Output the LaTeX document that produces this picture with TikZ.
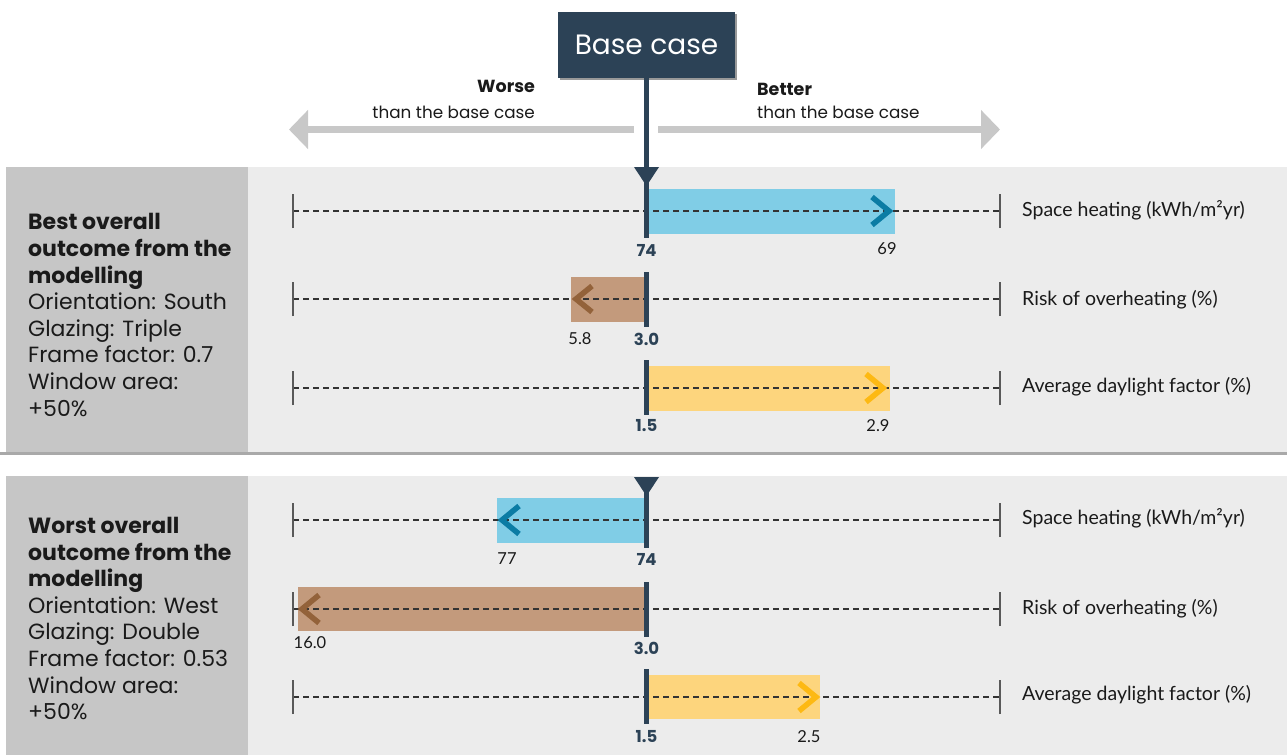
\documentclass[tikz,border=0pt]{standalone}
\usepackage{fontspec}
\setmainfont{Poppins}
\newfontfamily\lato{Lato}
\usetikzlibrary{arrows.meta}
\definecolor{navy}{HTML}{2C4256}
\definecolor{bgl}{HTML}{ECECEC}
\definecolor{panel}{HTML}{C6C6C6}
\definecolor{sepc}{HTML}{A9A9A9}
\definecolor{arrgray}{HTML}{C8C8C8}
\definecolor{bluebar}{HTML}{80CDE6}
\definecolor{bluechev}{HTML}{0B7CA4}
\definecolor{brownbar}{HTML}{C39A7C}
\definecolor{brownchev}{HTML}{93623A}
\definecolor{yelbar}{HTML}{FDD57D}
\definecolor{yelchev}{HTML}{FDB913}
\definecolor{txt}{HTML}{1A1A1A}
\tikzset{
  basebox/.style={fill=navy,text=white,minimum width=177pt,minimum height=66pt,inner sep=0pt,font=\fontsize{28}{30}\selectfont},
  grayarrow/.style={draw=arrgray,line width=7pt,-{Triangle[length=19pt,width=38pt]}},
  baseln/.style={draw=navy,line width=4.5pt},
  dashln/.style={draw=black!80,line width=1.1pt,dash pattern=on 6pt off 4pt},
  tickln/.style={draw=black!65,line width=1.5pt},
  chev/.style={line width=5.5pt,miter limit=10},
  bnum/.style={text=navy,font=\fontsize{16.5}{18}\selectfont\bfseries,inner sep=0pt},
  vnum/.style={text=txt,font=\lato\fontsize{16.5}{18}\selectfont,inner sep=0pt},
  rlab/.style={anchor=west,text=txt,font=\lato\fontsize{19.5}{22}\selectfont,inner sep=0pt},
  lefttxt/.style={anchor=north west,align=left,text=txt,inner sep=0pt,font=\fontsize{22}{26.6}\selectfont},
  headtxt/.style={text=txt,inner sep=0pt,font=\fontsize{16.8}{20}\selectfont}
}
\begin{document}
\begin{tikzpicture}[x=1pt,y=-1pt]
\useasboundingbox (0,0) rectangle (1287,755);
\fill[white] (0,0) rectangle (1287,755);
% section backgrounds
\fill[bgl] (6,167) rectangle (1287,453);
\fill[panel] (6,167) rectangle (248,453);
\draw[sepc,line width=2.2pt] (0,453.5) -- (1287,453.5);
\fill[bgl] (6,476) rectangle (1287,755);
\fill[panel] (6,476) rectangle (248,755);
% base case box
\fill[black!40] (560,14) rectangle (736.5,80);
\node[basebox] (base) at (646.5,45) {Base case};
% heading arrows
\coordinate (wl0) at (634,129.5);
\coordinate (wl1) at (289,129.5);
\coordinate (bl0) at (658,129.5);
\coordinate (bl1) at (1000,129.5);
\draw[grayarrow] (wl0) -- (wl1);
\draw[grayarrow] (bl0) -- (bl1);
\node[headtxt,anchor=base east,font=\fontsize{17.5}{20}\selectfont\bfseries] (worse) at (535,92) {Worse};
\node[headtxt,anchor=base east] (worse2) at (535,118) {than the base case};
\node[headtxt,anchor=base west,font=\fontsize{17.5}{20}\selectfont\bfseries] (better) at (757,95) {Better};
\node[headtxt,anchor=base west] (better2) at (757,118) {than the base case};
% left texts
\node[lefttxt] (best) at (28,213.5) {\textbf{Best overall}\\\textbf{outcome from the}\\\textbf{modelling}\\Orientation: South\\Glazing: Triple\\Frame factor: 0.7\\Window area:\\+50\%};
\node[lefttxt] (worst) at (28,517) {\textbf{Worst overall}\\\textbf{outcome from the}\\\textbf{modelling}\\Orientation: West\\Glazing: Double\\Frame factor: 0.53\\Window area:\\+50\%};
% bars
\fill[bluebar] (647,188.5) rectangle (895,233.5);
\fill[brownbar] (571,277) rectangle (647,322);
\fill[yelbar] (647,366) rectangle (890,411);
\fill[bluebar] (497,498) rectangle (647,543);
\fill[brownbar] (298,587) rectangle (647,631);
\fill[yelbar] (647,675) rectangle (820,719);
% dashed scales and ticks
\foreach \yy/\nm in {211/a,299/b,388/c,520/d,609/e,697/f}{
  \coordinate (L\nm) at (293,\yy);
  \coordinate (R\nm) at (1000,\yy);
  \draw[dashln] (L\nm) -- (R\nm);
  \draw[tickln] ([yshift=-17pt]L\nm) -- ([yshift=17pt]L\nm);
  \draw[tickln] ([yshift=-17pt]R\nm) -- ([yshift=17pt]R\nm);
}
% chevrons
\draw[chev,bluechev] (872,197) -- (889,211) -- (872,225);
\draw[chev,brownchev] (592,286) -- (576,299) -- (592,312);
\draw[chev,yelchev] (866,374) -- (883,388) -- (866,402);
\draw[chev,bluechev] (519,506) -- (502,520) -- (519,534);
\draw[chev,brownchev] (319,595) -- (302,609) -- (319,623);
\draw[chev,yelchev] (799,683) -- (816,697) -- (799,711);
% base lines
\coordinate (t1) at (646.5,238);
\draw[baseln] (base.south) -- (t1);
\fill[navy] (634,167) -- (659,167) -- (646.5,186) -- cycle;
\draw[baseln] (646.5,272) -- (646.5,327);
\draw[baseln] (646.5,360) -- (646.5,415);
\fill[navy] (634,477) -- (659,477) -- (646.5,496) -- cycle;
\draw[baseln] (646.5,477) -- (646.5,548);
\draw[baseln] (646.5,582) -- (646.5,637);
\draw[baseln] (646.5,669) -- (646.5,724);
% numbers
\node[bnum] (n1) at (646.5,250) {74};
\node[vnum] (v1) at (887,249) {69};
\node[bnum] (n2) at (646.5,339) {3.0};
\node[vnum] (v2) at (580,339) {5.8};
\node[bnum] (n3) at (646.5,426) {1.5};
\node[vnum] (v3) at (878,426) {2.9};
\node[bnum] (n4) at (646.5,559) {74};
\node[vnum] (v4) at (507,559) {77};
\node[bnum] (n5) at (646.5,648) {3.0};
\node[vnum] (v5) at (310,643) {16.0};
\node[bnum] (n6) at (646.5,737) {1.5};
\node[vnum] (v6) at (809,737) {2.5};
% right labels
\node[rlab] (l1) at (1022,210) {Space heating (kWh/m²yr)};
\node[rlab] (l2) at (1022,300) {Risk of overheating (\%)};
\node[rlab] (l3) at (1022,387) {Average daylight factor (\%)};
\node[rlab] (l4) at (1022,518) {Space heating (kWh/m²yr)};
\node[rlab] (l5) at (1022,609) {Risk of overheating (\%)};
\node[rlab] (l6) at (1022,695) {Average daylight factor (\%)};
\end{tikzpicture}
\end{document}
